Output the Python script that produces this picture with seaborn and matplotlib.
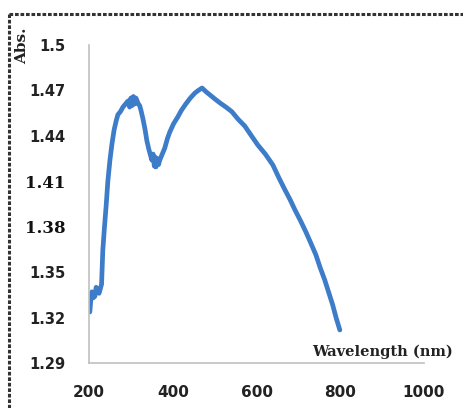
import matplotlib
matplotlib.use("Agg")
import matplotlib.pyplot as plt
from matplotlib.lines import Line2D
import seaborn as sns
import pandas as pd

# Data (wavelength nm, absorbance)
wavelength = [202, 205, 207, 210, 214, 217, 221, 224, 226, 230, 233, 237, 241, 245, 250, 255,
              260, 265, 269, 275, 281, 287, 293, 297, 300, 303, 306, 309, 312, 315, 318,
              321, 324, 329, 334, 338, 343, 347, 350, 353, 356, 358, 360, 363, 366, 369,
              375, 381, 387, 393, 402, 412, 421, 431, 442, 453, 461, 470, 480, 489,
              500, 513, 527, 541, 556, 572, 588, 603, 621, 639, 654, 668, 680, 692,
              705, 718, 730, 742, 752, 763, 772, 782, 790, 799]
absorbance = [1.3237, 1.334, 1.337, 1.333, 1.334, 1.340, 1.338, 1.336, 1.338, 1.342, 1.3646, 1.380, 1.394, 1.410, 1.424, 1.435,
              1.444, 1.450, 1.454, 1.456, 1.459, 1.461, 1.463, 1.459, 1.465, 1.460, 1.466, 1.461, 1.465, 1.463, 1.461,
              1.460, 1.457, 1.451, 1.444, 1.437, 1.431, 1.427, 1.424, 1.428, 1.420, 1.426, 1.4195, 1.425, 1.421, 1.424,
              1.428, 1.432, 1.438, 1.4426, 1.448, 1.4525, 1.457, 1.461, 1.465, 1.4683, 1.470, 1.4716, 1.469, 1.467,
              1.4645, 1.4617, 1.459, 1.456, 1.451, 1.4465, 1.440, 1.434, 1.428, 1.4208, 1.412, 1.4043, 1.398, 1.391,
              1.384, 1.3765, 1.369, 1.3613, 1.353, 1.3448, 1.337, 1.3283, 1.320, 1.3118]

x_ticks = [200, 400, 600, 800, 1000]
y_ticks = [1.29, 1.32, 1.35, 1.38, 1.41, 1.44, 1.47, 1.5]
y_tick_labels = ["1.29", "1.32", "1.35", "1.38", "1.41", "1.44", "1.47", "1.5"]
serif_labels = ["1.38", "1.41"]

df = pd.DataFrame({"Wavelength": wavelength, "Abs": absorbance})

sns.set_style("white")
plt.rcParams['font.family'] = ['DejaVu Sans']

fig = plt.figure(figsize=(4.63, 4.08), dpi=100)
ax = fig.add_axes([89/463, 1-363/408, (424-89)/463, (363-45)/408])

sns.lineplot(data=df, x="Wavelength", y="Abs", ax=ax, color="#3d7cc9",
             linewidth=3.4, estimator=None, sort=False)

ax.set_xlim(200, 1000)
ax.set_ylim(1.29, 1.5)
ax.set_xticks(x_ticks)
ax.set_xticklabels([str(t) for t in x_ticks])
ax.set_yticks(y_ticks)
ax.set_yticklabels(y_tick_labels)
ax.set_xlabel("")
ax.set_ylabel("")
ax.tick_params(axis="x", length=0, pad=16)
ax.tick_params(axis="y", length=0, pad=17)

for lab in ax.get_xticklabels():
    lab.set_fontweight("bold")
    lab.set_fontsize(11)
    lab.set_color("#222222")
for lab in ax.get_yticklabels():
    if lab.get_text() in serif_labels:
        lab.set_fontfamily("DejaVu Serif")
        lab.set_fontsize(12)
        lab.set_color("#111111")
    else:
        lab.set_fontsize(10.5)
        lab.set_color("#222222")
    lab.set_fontweight("bold")

for s in ["top", "right"]:
    ax.spines[s].set_visible(False)
for s in ["left", "bottom"]:
    ax.spines[s].set_color("#c0c0c0")
    ax.spines[s].set_linewidth(1.2)

ax.text(0.875, 0.035, "Wavelength (nm)", transform=ax.transAxes, ha="center", va="center",
        fontfamily="DejaVu Serif", fontweight="bold", fontsize=10.5, color="#222222")
ax.text(-0.2, 0.997, "Abs.", transform=ax.transAxes, ha="center", va="center", rotation=90,
        fontfamily="DejaVu Serif", fontweight="bold", fontsize=11, color="#222222")

# dotted frame: top and left edges only
bx = 9/463
by = 1 - 13.5/408
fig.add_artist(Line2D([bx, 1.0], [by, by], transform=fig.transFigure,
                      color="#333333", linewidth=2.2, linestyle=(0, (1.2, 0.6))))
fig.add_artist(Line2D([bx, bx], [0.0, by], transform=fig.transFigure,
                      color="#333333", linewidth=2.2, linestyle=(0, (1.2, 0.6))))

fig.savefig("out.png", dpi=100)
